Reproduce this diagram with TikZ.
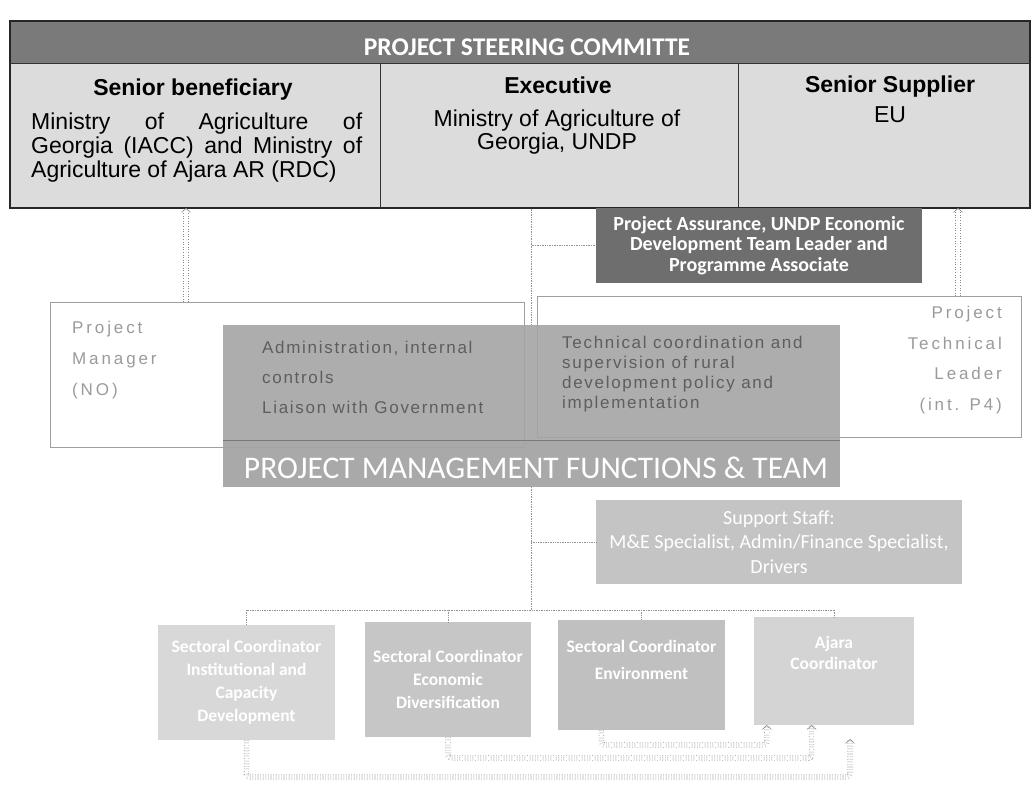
\documentclass[tikz,border=0pt]{standalone}
\usepackage{fontspec}
\setmainfont{Liberation Sans}
\newfontfamily\calfont{Carlito}
\newfontfamily\sparsefont[LetterSpace=17]{Liberation Sans}
\newfontfamily\midspfont[LetterSpace=10]{Liberation Sans}
\usetikzlibrary{arrows.meta,calc}
\definecolor{hdr}{HTML}{7A7A7A}
\definecolor{cellc}{HTML}{DCDCDC}
\definecolor{pac}{HTML}{6E6E6E}
\definecolor{func}{HTML}{A4A4A4}
\definecolor{funtxt}{HTML}{5E5E5E}
\definecolor{pmtxt}{HTML}{9A9A9A}
\definecolor{supc}{HTML}{C4C4C4}
\definecolor{coa}{HTML}{D8D8D8}
\definecolor{cob}{HTML}{C6C6C6}
\definecolor{coc}{HTML}{C0C0C0}
\definecolor{cod}{HTML}{D4D4D4}
\definecolor{dotc}{HTML}{8A8A8A}
\tikzset{
  box/.style={inner sep=0pt, outer sep=0pt, anchor=north west},
  cellbox/.style={box, fill=cellc},
  frame/.style={draw=gray!75, line width=0.7pt},
  conn/.style={draw=gray!85, line width=0.7pt, densely dotted},
  dbl/.style={draw=dotc, line width=0.6pt, double=white, double distance=4pt, dotted},
  tip/.style={-{Straight Barb[length=4pt,width=9pt]}},
  cotext/.style={text=white, font=\calfont\bfseries\fontsize{17.5}{23}\selectfont, align=center}
}
\begin{document}
\begin{tikzpicture}[x=1pt,y=-1pt]
\useasboundingbox (0,0) rectangle (1032,785);
% steering committee table
\node[box, fill=hdr, minimum width=1020pt, minimum height=42pt] (psc) at (10,21) {};
\node[cellbox, minimum width=370pt, minimum height=145pt] (sb) at (10,63) {};
\node[cellbox, minimum width=358pt, minimum height=145pt] (ex) at (380,63) {};
\node[cellbox, minimum width=292pt, minimum height=145pt] (ss) at (738,63) {};
\draw[line width=1.1pt, draw=black!85] (psc.north west) rectangle (ss.south east);
\draw[line width=0.9pt, draw=black!80] (psc.south west) -- (psc.south east);
\draw[line width=0.9pt, draw=black!80] (sb.north east) -- (sb.south east);
\draw[line width=0.9pt, draw=black!80] (ex.north east) -- (ex.south east);
\node[anchor=base, text=white, font=\calfont\bfseries\fontsize{25.5}{26}\selectfont] (psct) at (527,55) {PROJECT STEERING COMMITTE};
\node[anchor=base, font=\bfseries\fontsize{23}{24}\selectfont] (sbh) at (193,95) {Senior beneficiary};
\node[anchor=north west, inner sep=0pt, align=left, font=\fontsize{23}{24}\selectfont] (sbt) at (31,113)
  {\makebox[331pt][s]{Ministry of Agriculture of}\\\makebox[331pt][s]{Georgia (IACC) and Ministry of}\\Agriculture of Ajara AR (RDC)};
\node[anchor=base, font=\bfseries\fontsize{23}{24}\selectfont] (exh) at (558,93) {Executive};
\node[anchor=north, inner sep=0pt, align=center, font=\fontsize{23}{23}\selectfont] (ext) at (557,109.5)
  {Ministry of Agriculture of\\Georgia, UNDP};
\node[anchor=base, font=\bfseries\fontsize{23}{24}\selectfont] (ssh) at (890,92) {Senior Supplier};
\node[anchor=base, font=\fontsize{23}{24}\selectfont] (sst) at (890,122) {EU};
% project assurance
\node[box, fill=pac, minimum width=326pt, minimum height=75pt] (pa) at (596,208) {};
\node[text=white, align=center, font=\calfont\bfseries\fontsize{20}{20.5}\selectfont] (pat) at (pa.center)
  {Project Assurance, UNDP Economic\\Development Team Leader and\\Programme Associate};
% manager and technical leader frames
\node[box, frame, minimum width=474pt, minimum height=145pt] (pm) at (50,302) {};
\node[box, frame, minimum width=484pt, minimum height=141pt] (ptl) at (537,296) {};
% connectors
\coordinate (s0) at (531,208.6);
\coordinate (j) at (531,610);
\draw[conn] (s0) -- (s0 |- pa.west) -- (pa.west);
\draw[conn] (s0 |- pa.west) -- (531,325);
% functions overlay
\node[box, fill=func, opacity=0.9, minimum width=617pt, minimum height=115pt] (fun) at (223,325) {};
\node[box, fill=func, opacity=0.95, minimum width=617pt, minimum height=47pt] (pmf) at (223,440) {};
\draw[draw=gray!60!black, line width=0.5pt, opacity=0.5] (fun.south west) -- (fun.south east);
\draw[conn] (pmf.south -| s0) -- (j);
\node[anchor=north west, inner sep=0pt, align=left, text=funtxt, font=\midspfont\fontsize{17}{30}\selectfont] (adm) at (262,341)
  {Administration, internal\\controls\\Liaison with Government};
\node[anchor=north west, inner sep=0pt, align=left, text=funtxt, font=\midspfont\fontsize{17}{20}\selectfont] (tec) at (562,336)
  {Technical coordination and\\supervision of rural\\development policy and\\implementation};
\node[anchor=north west, inner sep=0pt, align=left, text=pmtxt, font=\sparsefont\fontsize{17}{31}\selectfont] (pmt) at (72,321)
  {Project\\Manager\\(NO)};
\node[anchor=north east, inner sep=0pt, align=right, text=pmtxt, font=\sparsefont\fontsize{17}{30.7}\selectfont] (ptlt) at (1002,306)
  {Project\\Technical\\Leader\\(int. P4)};
\node[anchor=base, text=white, font=\calfont\fontsize{31.5}{31}\selectfont] (pmft) at (536,478) {PROJECT MANAGEMENT FUNCTIONS \& TEAM};
% support staff
\node[box, fill=supc, minimum width=366pt, minimum height=84pt] (sup) at (596,500) {};
\node[text=white, align=center, font=\calfont\fontsize{20}{24.5}\selectfont] (supt) at (sup.center)
  {Support Staff:\\M\&E Specialist, Admin/Finance Specialist,\\Drivers};
\draw[conn] (j |- sup.west) -- (sup.west);
% coordinators
\node[box, fill=coa, minimum width=177pt, minimum height=115pt] (c1) at (158,625) {};
\node[box, fill=cob, minimum width=166pt, minimum height=115pt] (c2) at (365,622) {};
\node[box, fill=coc, minimum width=167pt, minimum height=110pt] (c3) at (558,620) {};
\node[box, fill=cod, minimum width=160pt, minimum height=108pt] (c4) at (754,617) {};
\node[cotext] (c1t) at (c1.center) {Sectoral Coordinator\\Institutional and\\Capacity\\Development};
\node[cotext] (c2t) at (c2.center) {Sectoral Coordinator\\Economic\\Diversification};
\node[cotext, anchor=north, font=\calfont\bfseries\fontsize{17.5}{27}\selectfont] (c3t) at ($(c3.north)+(0,17)$) {Sectoral Coordinator\\Environment};
\node[cotext, anchor=north, font=\calfont\bfseries\fontsize{17.5}{21}\selectfont] (c4t) at ($(c4.north)+(0,16)$) {Ajara\\Coordinator};
% tree to coordinators
\draw[conn] (c1.north |- j) -- (c4.north |- j);
\foreach \c in {c1,c2,c3,c4} { \draw[conn] (\c.north |- j) -- (\c.north); }
% double dotted arrows
\coordinate (a1) at (186,302);
\coordinate (a2) at (958,296);
\draw[dbl, tip] (a1) -- (a1 |- sb.south);
\draw[dbl, tip] (a2) -- (a2 |- ss.south);
\draw[dbl, tip, rounded corners=3pt] ($(c3.south west)!0.26!(c3.south east)$) -- ++(0,15) -| ($(c4.south west)!0.08!(c4.south east)$);
\draw[dbl, tip, rounded corners=3pt] (c2.south) -- ++(0,21) -| ($(c4.south west)!0.36!(c4.south east)$);
\draw[dbl, tip, rounded corners=3pt, shorten >=14pt] (c1.south) -- ++(0,37) -| ($(c4.south west)!0.6!(c4.south east)$);
\end{tikzpicture}
\end{document}
